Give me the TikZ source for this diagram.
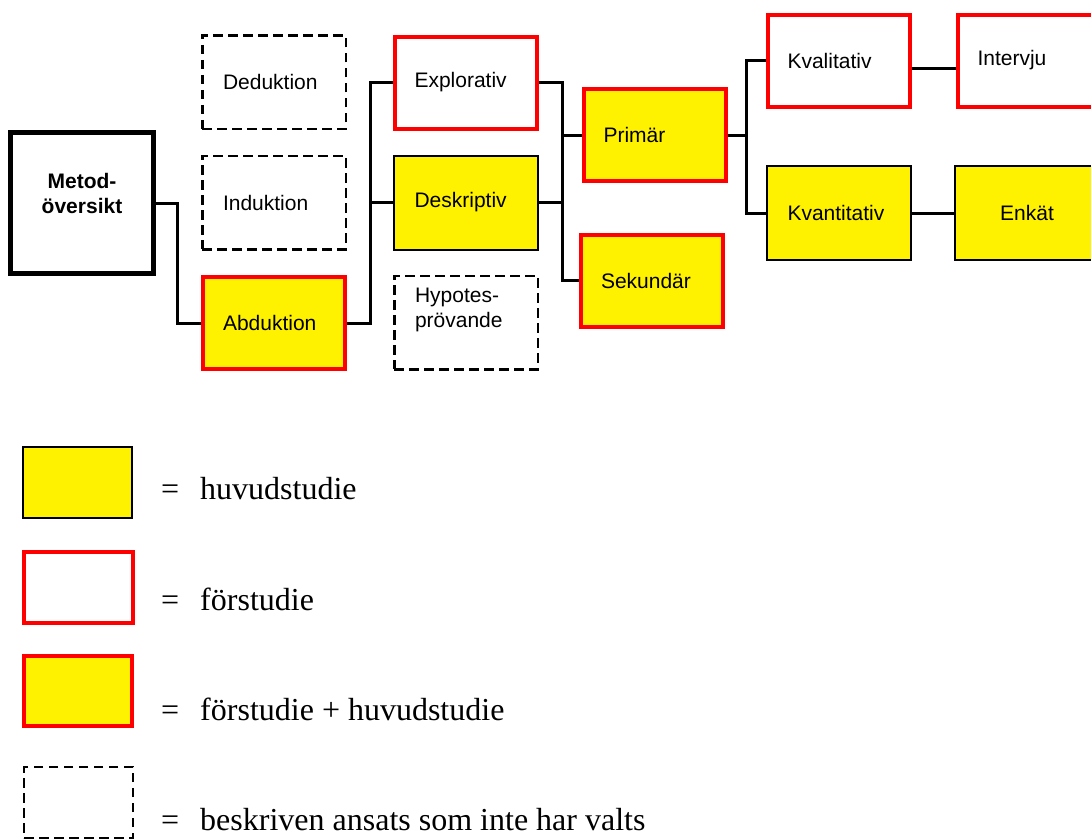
\documentclass[tikz,border=0pt]{standalone}
\usepackage{fontspec}
\setmainfont{Liberation Serif}
\newfontfamily\arialfont{Liberation Sans}
\usepackage{tikz}

\begin{document}
\begin{tikzpicture}[x=1pt,y=-1pt,
  boxtext/.style={font=\arialfont\fontsize{21}{25}\selectfont},
  stepbox/.style={rectangle,inner sep=0pt,boxtext,text width=102pt,align=left},
  huvud/.style={stepbox,draw=black,line width=2pt,fill=yellow,minimum width=144pt,minimum height=94pt},
  forst/.style={stepbox,draw=red,line width=4pt,fill=white,minimum width=142pt,minimum height=92pt},
  bada/.style={forst,fill=yellow},
  ejvald/.style={stepbox,draw=black,line width=2.5pt,dash pattern=on 9.5pt off 5.5pt,fill=white,minimum width=143.5pt,minimum height=93.5pt},
  wire/.style={draw=black,line width=3pt},
  legtext/.style={anchor=base west,font=\fontsize{32}{38}\selectfont,inner sep=0pt}]
\fill[white] (0,0) rectangle (1091,839);
\clip (0,0) rectangle (1091,839);
% Drawing boxes
\node[draw=black,line width=4.5pt,fill=white,minimum width=143pt,minimum height=141pt,inner sep=0pt,
  label={[font=\arialfont\bfseries\fontsize{21}{25}\selectfont,align=center,yshift=10pt]center:Metod-\\översikt}] (metod) at (82,203) {};
\node[ejvald] (ded) at (274,82) {Deduktion};
\node[ejvald] (ind) at (274,202.5) {Induktion};
\node[bada] (abd) at (274,323) {Abduktion};
\node[forst] (expl) at (465.5,82.5) {Explorativ};
\node[huvud] (desk) at (465.5,202.5) {Deskriptiv};
\node[ejvald,label={[boxtext,text width=102pt,align=left,yshift=12.5pt]center:Hypotes-\\prövande}] (hyp) at (466,322.5) {};
\node[bada] (prim) at (654.5,135) {Primär};
\node[bada] (sek) at (652,280.5) {Sekundär};
\node[forst] (kval) at (838.5,60.5) {Kvalitativ};
\node[huvud] (kvan) at (838.5,213) {Kvantitativ};
\node[forst] (intv) at (1028.5,60.5) {Intervju};
\node[huvud,align=center] (enk) at (1027,213) {Enkät};
% Done with boxes; drawing wires
\coordinate (t1) at (177,0);
\coordinate (t2) at (370,0);
\coordinate (t3) at (562,0);
\coordinate (t4) at (746,0);
\draw[wire] (metod.east) -| (t1 |- abd.west) -- (abd.west);
\draw[wire] (abd.east) -| (t2 |- expl.west) -- (expl.west);
\draw[wire] (t2 |- desk.west) -- (desk.west);
\draw[wire] (expl.east) -| (t3 |- sek.west) -- (sek.west);
\draw[wire] (desk.east) -- (t3 |- desk.east);
\draw[wire] (t3 |- prim.west) -- (prim.west);
\draw[wire] (prim.east) -- (t4 |- prim.east);
\draw[wire] (kval.west) -| (t4 |- kvan.west) -- (kvan.west);
\draw[wire] ([yshift=-7.5pt]kval.east) -- ([yshift=-7.5pt]kval.east -| intv.west);
\draw[wire] (kvan.east) -- (enk.west);
% Done with wires; drawing legend
\node[huvud,minimum width=109pt,minimum height=71pt] (leg1) at (77.5,482.5) {};
\node[forst,minimum width=109pt,minimum height=71pt] (leg2) at (78.5,587.5) {};
\node[bada,minimum width=108pt,minimum height=70pt] (leg3) at (78,691) {};
\node[ejvald,minimum width=109pt,minimum height=71pt] (leg4) at (78.5,802.5) {};
\node[legtext] (legtxt1) at (161,499) {=\hspace{21pt}huvudstudie};
\node[legtext] (legtxt2) at (161,610) {=\hspace{21pt}förstudie};
\node[legtext] (legtxt3) at (161,720) {=\hspace{21pt}förstudie + huvudstudie};
\node[legtext] (legtxt4) at (161,830) {=\hspace{21pt}beskriven ansats som inte har valts};
% Done with legend
\end{tikzpicture}
\end{document}
